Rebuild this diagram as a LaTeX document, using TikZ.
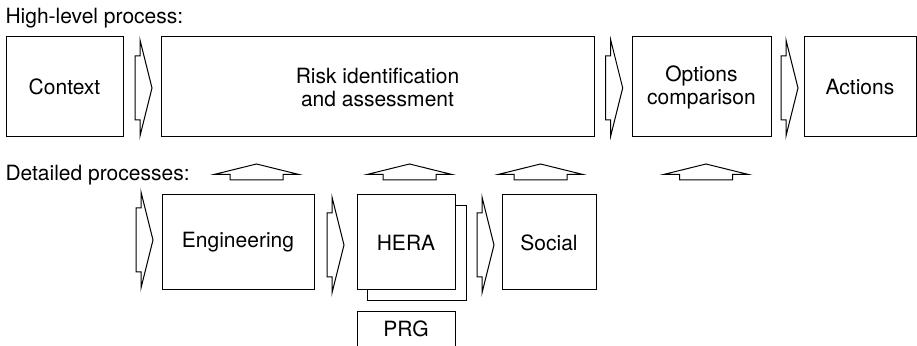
\documentclass[tikz,border=0pt]{standalone}
\usepackage{fontspec}
\setmainfont{TeX Gyre Heros}
\usetikzlibrary{positioning}

\begin{document}
\begin{tikzpicture}[
  x=0.5pt, y=-0.5pt,
  font=\fontsize{10.5}{11.5}\selectfont,
  line width=0.5pt,
  box/.style  = {draw, fill=white, inner sep=0pt, align=center},
  hdr/.style  = {anchor=west, inner sep=0pt},
  blk/.style  = {draw, fill=white, line join=miter},
  rarr/.pic   = {\draw[blk] (0,-32) -- (5,-32) -- (5,-48) -- (17,0)
                   -- (5,48) -- (5,32) -- (0,32) -- cycle;},
  uarr/.pic   = {\draw[blk] (0,0) -- (42.5,10.5) -- (26.5,10.5) -- (26.5,16)
                   -- (-26.5,16) -- (-26.5,10.5) -- (-42.5,10.5) -- cycle;},
]

\useasboundingbox (0,0) rectangle (917,346);

% high-level row
\node[hdr] (hl) at (5,18) {High-level process:};

\node[box, minimum width=58.5pt, minimum height=50pt]  (ctx)  at (64.5,87)  {Context};
\node[box, minimum width=216.5pt, minimum height=50pt] (risk) at (377.5,87) {Risk identification\\and assessment};
\node[box, minimum width=69.5pt, minimum height=50pt]  (opt)  at (701.5,87) {Options\\comparison};
\node[box, minimum width=56pt, minimum height=50pt]    (act)  at (860,87)   {Actions};

\pic at (135,88)   {rarr};
\pic at (605.7,88) {rarr};
\pic at (781,88)   {rarr};

% detailed row
\node[hdr] (dl) at (5,175) {Detailed processes:};

\foreach \ux in {256.5,409.5,540.5,706}
  \pic at (\ux,164) {uarr};

\node[box, minimum width=76pt, minimum height=47.5pt]   (eng)   at (238,242.5)   {Engineering};
\node[box, minimum width=49.5pt, minimum height=47.5pt] (herab) at (416.5,253.5) {};
\node[box, minimum width=49pt, minimum height=47.5pt]   (hera)  at (406,242.5)   {HERA};
\node[box, minimum width=47pt, minimum height=47.5pt]   (soc)   at (549,242.5)   {Social};

\pic at (136,240) {rarr};
\pic at (327,245) {rarr};
\pic at (477,245) {rarr};

% PRG, cut at the lower edge
\node[inner sep=0pt] (prg) at (406,329) {PRG};
\draw (357,346) -- (357,312) -- (455,312) -- (455,346);

\end{tikzpicture}
\end{document}
